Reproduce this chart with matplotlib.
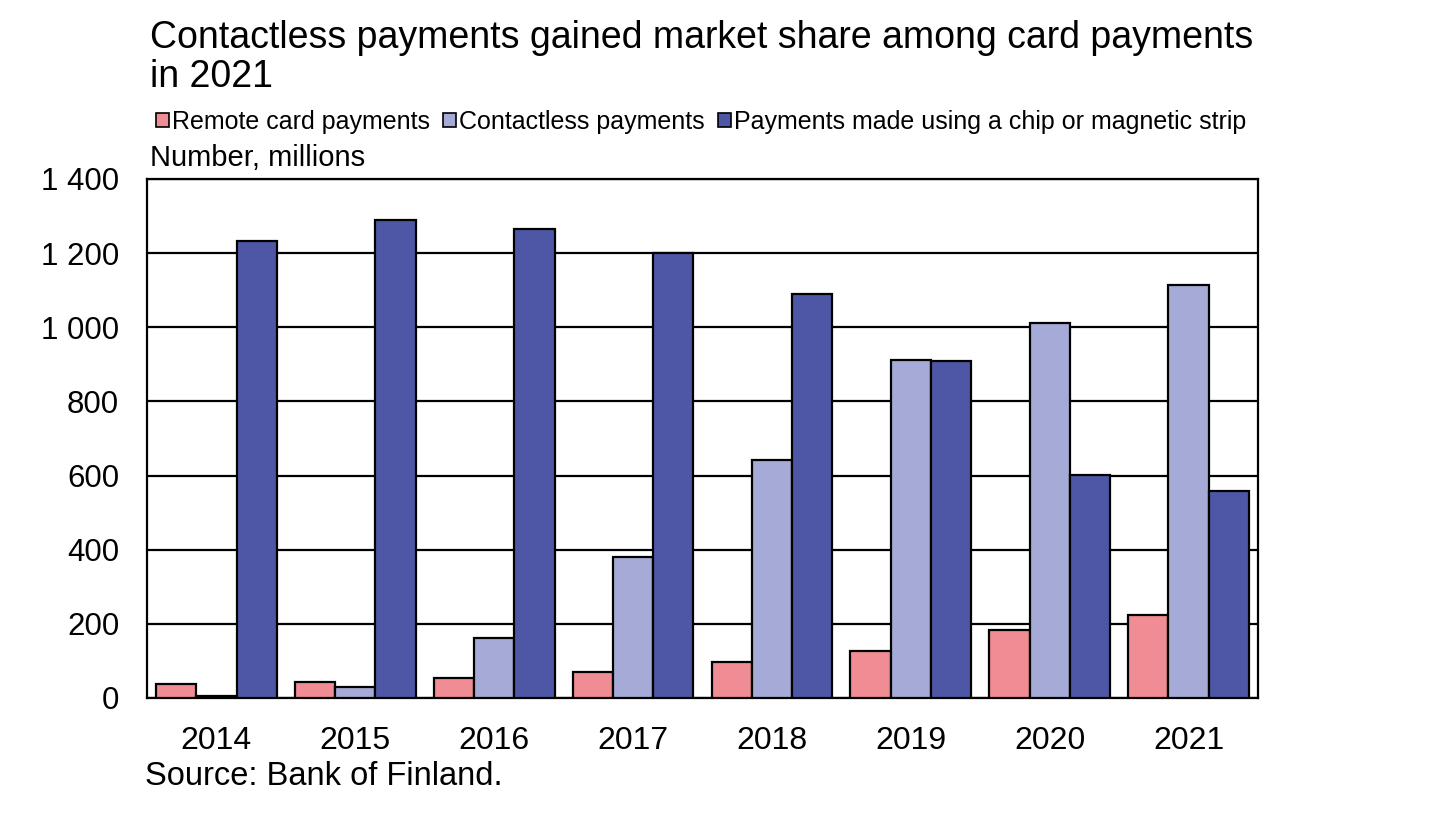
import numpy as np
import matplotlib.pyplot as plt
from matplotlib.patches import Patch

plt.rcParams['font.family'] = ['Liberation Sans', 'DejaVu Sans']

years = ['2014', '2015', '2016', '2017', '2018', '2019', '2020', '2021']
remote = [39, 42, 55, 69, 98, 128, 183, 223]
contactless = [6, 30, 163, 380, 642, 912, 1012, 1114]
chip = [1234, 1289, 1265, 1200, 1090, 909, 602, 558]

series_names = ['Remote card payments', 'Contactless payments',
                'Payments made using a chip or magnetic strip']
colors = ['#f08c94', '#a5aad6', '#4e57a6']
ytick_labels = ['0', '200', '400', '600', '800', '1 000', '1 200', '1 400']

fig = plt.figure(figsize=(14.31, 8.18), dpi=100)
ax = fig.add_axes([0.1027, 0.1467, 0.7764, 0.6345])

x = np.arange(len(years))
w = 0.29
for i, (vals, c) in enumerate(zip([remote, contactless, chip], colors)):
    ax.bar(x + (i - 1) * w, vals, w, color=c, edgecolor='black',
           linewidth=1.6, zorder=3)

ax.set_xlim(-0.5, len(years) - 0.5)
ax.set_ylim(0, 1400)
ax.set_yticks(np.arange(0, 1401, 200))
ax.set_yticklabels(ytick_labels)
ax.set_xticks(x)
ax.set_xticklabels(years)
ax.tick_params(axis='both', length=0, labelsize=22.5)
ax.tick_params(axis='y', pad=20)
ax.tick_params(axis='x', labelsize=23, pad=20)
ax.yaxis.grid(True, color='black', linewidth=1.6, zorder=0)
for s in ax.spines.values():
    s.set_linewidth(1.6)

fig.text(0.105, 0.975, 'Contactless payments gained market share among card payments\nin 2021',
         fontsize=27, va='top', ha='left', linespacing=1.09)
handles = [Patch(facecolor=c, edgecolor='black', linewidth=1.2) for c in colors]
fig.legend(handles, series_names, loc='center left', bbox_to_anchor=(0.109, 0.851),
           ncol=3, frameon=False, fontsize=18, handlelength=0.52, handleheight=0.52,
           handletextpad=0.12, columnspacing=0.52, borderaxespad=0, borderpad=0)
fig.text(0.105, 0.807, 'Number, millions', fontsize=21, va='center', ha='left')
fig.text(0.101, 0.051, 'Source: Bank of Finland.', fontsize=23.5, va='center', ha='left')

fig.savefig('out.png', dpi=100)
